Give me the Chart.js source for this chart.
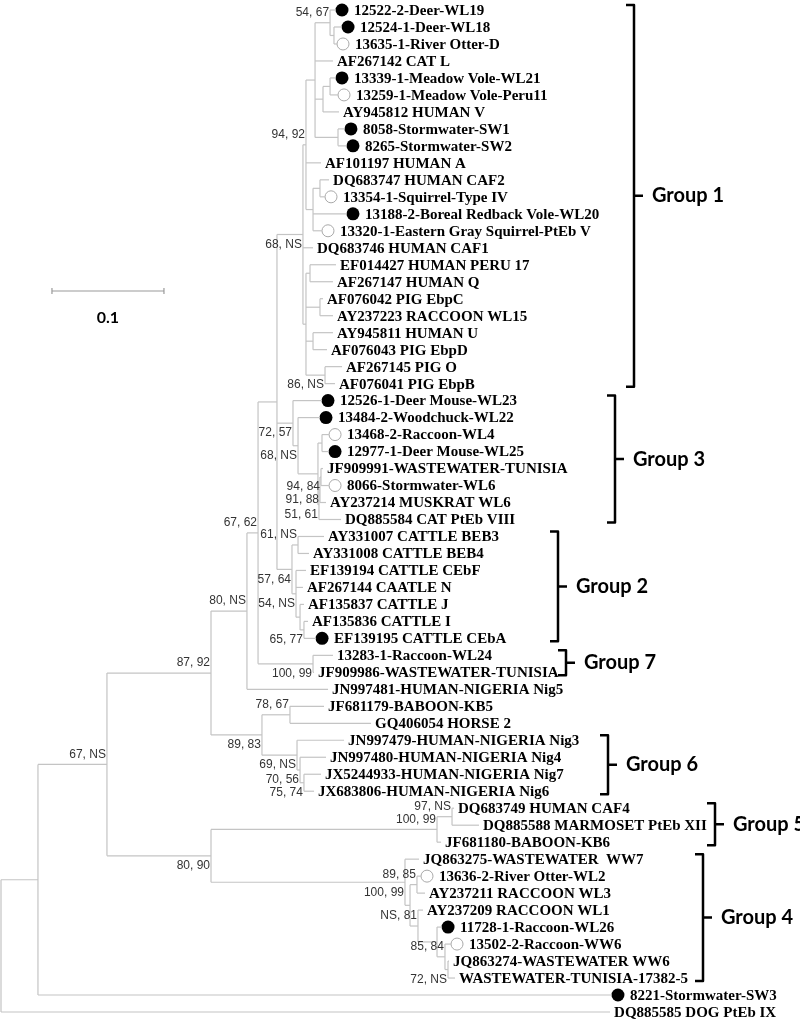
<!DOCTYPE html>
<html>
<head>
<meta charset="utf-8">
<script src="https://cdn.jsdelivr.net/npm/chart.js@4.4.0/dist/chart.umd.min.js"></script>
<style>
  html, body { margin: 0; padding: 0; background: #fff; }
  #wrap { position: relative; width: 800px; height: 1021px; }
</style>
</head>
<body>
<div id="wrap"><canvas id="tree"></canvas></div>
<script>
// leaves, top to bottom
const leafNames = [
  '12522-2-Deer-WL19', '12524-1-Deer-WL18', '13635-1-River Otter-D', 'AF267142 CAT L',
  '13339-1-Meadow Vole-WL21', '13259-1-Meadow Vole-Peru11', 'AY945812 HUMAN V',
  '8058-Stormwater-SW1', '8265-Stormwater-SW2', 'AF101197 HUMAN A', 'DQ683747 HUMAN CAF2',
  '13354-1-Squirrel-Type IV', '13188-2-Boreal Redback Vole-WL20',
  '13320-1-Eastern Gray Squirrel-PtEb V', 'DQ683746 HUMAN CAF1', 'EF014427 HUMAN PERU 17',
  'AF267147 HUMAN Q', 'AF076042 PIG EbpC', 'AY237223 RACCOON WL15', 'AY945811 HUMAN U',
  'AF076043 PIG EbpD', 'AF267145 PIG O', 'AF076041 PIG EbpB',
  '12526-1-Deer Mouse-WL23', '13484-2-Woodchuck-WL22', '13468-2-Raccoon-WL4',
  '12977-1-Deer Mouse-WL25', 'JF909991-WASTEWATER-TUNISIA', '8066-Stormwater-WL6',
  'AY237214 MUSKRAT WL6', 'DQ885584 CAT PtEb VIII',
  'AY331007 CATTLE BEB3', 'AY331008 CATTLE BEB4', 'EF139194 CATTLE CEbF', 'AF267144 CAATLE N',
  'AF135837 CATTLE J', 'AF135836 CATTLE I', 'EF139195 CATTLE CEbA',
  '13283-1-Raccoon-WL24', 'JF909986-WASTEWATER-TUNISIA', 'JN997481-HUMAN-NIGERIA Nig5',
  'JF681179-BABOON-KB5', 'GQ406054 HORSE 2',
  'JN997479-HUMAN-NIGERIA Nig3', 'JN997480-HUMAN-NIGERIA Nig4', 'JX5244933-HUMAN-NIGERIA Nig7',
  'JX683806-HUMAN-NIGERIA Nig6',
  'DQ683749 HUMAN CAF4', 'DQ885588 MARMOSET PtEb XII', 'JF681180-BABOON-KB6',
  'JQ863275-WASTEWATER  WW7', '13636-2-River Otter-WL2', 'AY237211 RACCOON WL3',
  'AY237209 RACCOON WL1', '11728-1-Raccoon-WL26', '13502-2-Raccoon-WW6',
  'JQ863274-WASTEWATER WW6', 'WASTEWATER-TUNISIA-17382-5',
  '8221-Stormwater-SW3', 'DQ885585 DOG PtEb IX'
];
// F = filled circle, O = open circle
const leafMarks = [
  'F','F','O','','F','O','','F','F','','','O','F','O','','','','','','','','','',
  'F','F','O','F','','O','','',
  '','','','','','','F',
  '','','','','',
  '','','','',
  '','','',
  '','O','','','F','O','','',
  'F',''
];
// distance of each leaf tip from the root
const leafDist = [
  0.2991, 0.3045, 0.3000, 0.2964, 0.2991, 0.3009, 0.3018, 0.3071, 0.3089, 0.2857,
  0.2929, 0.2893, 0.3089, 0.2866, 0.2786, 0.2991, 0.2964, 0.2875, 0.2964, 0.2964,
  0.2911, 0.3045, 0.2982, 0.2866, 0.2848, 0.2929, 0.2929, 0.2875, 0.2929, 0.2902,
  0.3036, 0.2884, 0.2750, 0.2723, 0.2696, 0.2705, 0.2741, 0.2813, 0.2964, 0.2795,
  0.2920, 0.2884, 0.3304, 0.3063, 0.2902, 0.2857, 0.2795, 0.4045, 0.4268, 0.3929,
  0.3732, 0.3750, 0.3786, 0.3768, 0.3938, 0.4018, 0.4000, 0.4054, 0.5455, 0.5438
];

// internal nodes: distance from root, children (L = leaf, N = node), bootstrap text
const nodeDist = [
  0.0000, 0.0330, 0.0946, 0.1875, 0.2196, 0.2295, 0.2464, 0.2696, 0.2723, 0.2804,
  0.2938, 0.2973, 0.2875, 0.2938, 0.3009, 0.2786, 0.2848, 0.2723, 0.2759, 0.2848,
  0.2786, 0.2893, 0.2607, 0.2652, 0.2830, 0.2866, 0.2839, 0.2848, 0.2857, 0.2598,
  0.2652, 0.2634, 0.2670, 0.2705, 0.2786, 0.2330, 0.2580, 0.2643, 0.2670, 0.2705,
  0.1875, 0.3893, 0.4027, 0.3607, 0.3652, 0.3714, 0.3723, 0.3893, 0.3964, 0.3991
];
const nodeKids = [
  ['N1','L59'], ['N2','L58'], ['N3','N40'], ['N4','N35'], ['N5','L40'],
  ['N6','N34'], ['N7','N22','N29'], ['N8','L14','N17'], ['N9','L9','N15'], ['N10','L3','N12','N14'],
  ['L0','N11'], ['L1','L2'], ['N13','L6'], ['L4','L5'], ['L7','L8'],
  ['N16','L12','L13'], ['L10','L11'], ['N18','N19','N20','N21'], ['L15','L16'], ['L17','L18'],
  ['L19','L20'], ['L21','L22'], ['L23','N23'], ['L24','N24'], ['N25','N26'],
  ['L25','L26'], ['N27','L30'], ['N28','L29'], ['L27','L28'], ['N30','N31'],
  ['L31','L32'], ['L33','L34','N32'], ['L35','N33'], ['L36','L37'], ['L38','L39'],
  ['N36','N37'], ['L41','L42'], ['L43','N38'], ['L44','N39'], ['L45','L46'],
  ['N41','N43'], ['N42','L49'], ['L47','L48'], ['L50','N44'], ['N45','N46'],
  ['L51','L52'], ['L53','N47'], ['L54','N48'], ['L55','N49'], ['L56','L57']
];
const nodeSupport = [
  '', '', '67, NS', '87, 92', '80, NS', '67, 62', '', '68, NS', '94, 92', '',
  '54, 67', '', '', '', '', '', '', '', '', '',
  '', '86, NS', '72, 57', '68, NS', '', '', '51, 61', '91, 88', '94, 84', '57, 64',
  '61, NS', '54, NS', '', '65, 77', '100, 99', '89, 83', '78, 67', '69, NS', '70, 56', '75, 74',
  '80, 90', '100, 99', '97, NS', '100, 99', '', '89, 85', 'NS, 81', '', '85, 84', '72, NS'
];
// -1 label sits above the node, 1 below
const supportSide = [
  0, 0, -1, -1, -1, -1, 0, 1, -1, 0,
  -1, 0, 0, 0, 0, 0, 0, 0, 0, 0,
  0, 1, 1, 1, 0, 0, 1, 1, 1, 1,
  -1, 1, 0, 1, 1, 1, -1, 1, 1, 1,
  1, -1, -1, 1, 0, -1, -1, 0, -1, 1
];

const groupNames = ['Group 1', 'Group 3', 'Group 2', 'Group 7', 'Group 6', 'Group 5', 'Group 4'];
const groupFirst = [0, 23, 31, 38, 43, 47, 50];
const groupLast = [22, 30, 37, 39, 46, 49, 57];
const scaleBarLength = 0.1;

// layout
const PX_PER_UNIT = 1120;
const groupBracketX = [634, 615, 558, 566, 608, 715, 703];
const scaleBarStart = 0.0455;
const scaleBarY = 291;
const branchColor = '#c4c4c4';

// y of a node = middle of its first and last child (leaf y = row index)
const nodeY = [];
function yOf(ref) {
  const k = +ref.slice(1);
  if (ref[0] === 'L') return k;
  if (nodeY[k] === undefined) {
    const kids = nodeKids[k];
    nodeY[k] = (yOf(kids[0]) + yOf(kids[kids.length - 1])) / 2;
  }
  return nodeY[k];
}
function distOf(ref) {
  const k = +ref.slice(1);
  return ref[0] === 'L' ? leafDist[k] : nodeDist[k];
}
nodeKids.forEach((kids, n) => yOf('N' + n));

// one dataset per branch segment
const datasets = [];
nodeKids.forEach((kids, n) => {
  const x = nodeDist[n];
  const ys = kids.map(yOf);
  datasets.push({ data: [{ x: x, y: ys[0] }, { x: x, y: ys[ys.length - 1] }] });
  kids.forEach((k, j) => {
    datasets.push({ data: [{ x: x, y: ys[j] }, { x: distOf(k), y: ys[j] }] });
  });
});
datasets.forEach(d => {
  d.showLine = true;
  d.borderColor = branchColor;
  d.borderWidth = 1.2;
  d.pointRadius = 0;
});

const markGap = 6 / PX_PER_UNIT;
const filled = [], open = [];
leafMarks.forEach((m, i) => {
  if (m === 'F') filled.push({ x: leafDist[i] + markGap, y: i });
  if (m === 'O') open.push({ x: leafDist[i] + markGap, y: i });
});
datasets.push({ data: filled, pointRadius: 6.5, backgroundColor: '#000', borderWidth: 0 });
datasets.push({ data: open, pointRadius: 6, backgroundColor: '#fff', borderColor: '#a8a8a8', borderWidth: 1 });

const treeText = {
  id: 'treeText',
  afterDatasetsDraw(chart) {
    const { ctx, scales: { x, y } } = chart;
    ctx.save();
    ctx.textBaseline = 'middle';

    // leaf names
    ctx.font = "bold 15px 'Liberation Serif'";
    ctx.fillStyle = '#000';
    ctx.textAlign = 'left';
    leafNames.forEach((name, i) => {
      const px = x.getPixelForValue(leafDist[i]) + (leafMarks[i] ? 18 : 4);
      ctx.fillText(name, px, y.getPixelForValue(i) + 1);
    });

    // bootstrap values
    ctx.font = "12px 'Liberation Sans'";
    ctx.fillStyle = '#333';
    ctx.textAlign = 'right';
    nodeSupport.forEach((s, n) => {
      if (!s) return;
      ctx.fillText(s, x.getPixelForValue(nodeDist[n]) - 1, y.getPixelForValue(nodeY[n]) + supportSide[n] * 10);
    });

    // group brackets
    ctx.strokeStyle = '#000';
    ctx.lineWidth = 2.5;
    ctx.lineJoin = 'round';
    ctx.fillStyle = '#000';
    ctx.textAlign = 'left';
    ctx.font = "bold 20px Lato";
    groupNames.forEach((g, i) => {
      const bx = groupBracketX[i];
      const top = y.getPixelForValue(groupFirst[i]) - 5;
      const bot = y.getPixelForValue(groupLast[i]) + 3;
      const mid = (top + bot) / 2;
      ctx.beginPath();
      ctx.moveTo(bx - 8, top);
      ctx.lineTo(bx, top);
      ctx.lineTo(bx, bot);
      ctx.lineTo(bx - 8, bot);
      ctx.moveTo(bx, mid);
      ctx.lineTo(bx + 9, mid);
      ctx.stroke();
      ctx.fillText(g, bx + 18, mid);
    });

    // scale bar
    const x0 = x.getPixelForValue(scaleBarStart);
    const x1 = x.getPixelForValue(scaleBarStart + scaleBarLength);
    ctx.strokeStyle = '#9a9a9a';
    ctx.lineWidth = 1.2;
    ctx.beginPath();
    ctx.moveTo(x0, scaleBarY);
    ctx.lineTo(x1, scaleBarY);
    ctx.moveTo(x0, scaleBarY - 3);
    ctx.lineTo(x0, scaleBarY + 3);
    ctx.moveTo(x1, scaleBarY - 3);
    ctx.lineTo(x1, scaleBarY + 3);
    ctx.stroke();
    ctx.font = "bold 16px Lato";
    ctx.textAlign = 'center';
    ctx.fillStyle = '#000';
    ctx.fillText(scaleBarLength.toString(), (x0 + x1) / 2, scaleBarY + 27);
    ctx.restore();
  }
};

new Chart(document.getElementById('tree'), {
  type: 'scatter',
  data: { datasets: datasets },
  options: {
    responsive: true,
    maintainAspectRatio: false,
    animation: false,
    events: [],
    layout: { padding: 0, autoPadding: false },
    plugins: { legend: { display: false }, tooltip: { enabled: false } },
    scales: {
      x: { type: 'linear', display: false, min: -1 / PX_PER_UNIT, max: 799 / PX_PER_UNIT },
      y: { type: 'linear', display: false, reverse: true, min: -0.589, max: 59.53 }
    }
  },
  plugins: [treeText]
});
</script>
</body>
</html>
